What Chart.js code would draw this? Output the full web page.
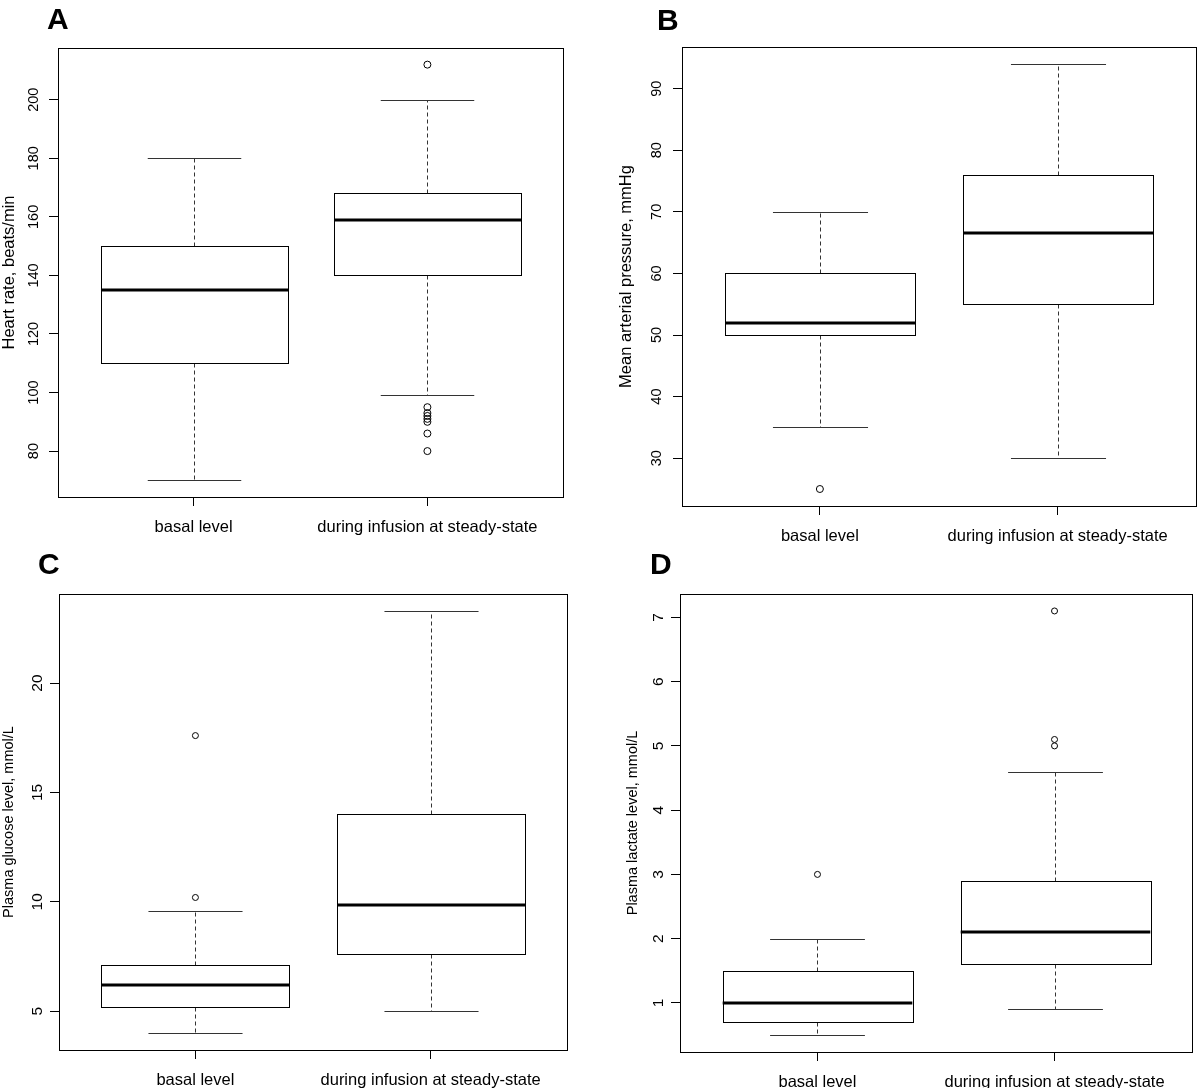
<!DOCTYPE html>
<html>
<head>
<meta charset="utf-8">
<script src="https://cdn.jsdelivr.net/npm/chart.js@4/dist/chart.umd.min.js"></script>
<style>
  html, body { margin: 0; padding: 0; background: #fff; }
  #wrap { position: relative; width: 1200px; height: 1088px; overflow: hidden; }
  .panel { position: absolute; width: 600px; height: 544px; }
  .panel canvas { display: block; }
</style>
</head>
<body>
<div id="wrap">
  <div class="panel" style="left:0;top:0"><canvas id="cA" width="600" height="544"></canvas></div>
  <div class="panel" style="left:600px;top:0"><canvas id="cB" width="600" height="544"></canvas></div>
  <div class="panel" style="left:0;top:544px"><canvas id="cC" width="600" height="544"></canvas></div>
  <div class="panel" style="left:600px;top:544px"><canvas id="cD" width="600" height="544"></canvas></div>
</div>
<script>
'use strict';
const groups = ['basal level', 'during infusion at steady-state'];

// five-number summaries: lower whisker, Q1, median, Q3, upper whisker
const heartBasal = [70, 110, 135, 150, 180];
const heartInfusion = [99, 140, 159, 168, 200];
const heartOutBasal = [];
const heartOutInfusion = [212, 95, 93, 92, 91, 90, 86, 80];
const heartTicks = [80, 100, 120, 140, 160, 180, 200];

const mapBasal = [35, 50, 52, 60, 70];
const mapInfusion = [30, 55, 66.5, 76, 94];
const mapOutBasal = [25];
const mapOutInfusion = [];
const mapTicks = [30, 40, 50, 60, 70, 80, 90];

const glucoseBasal = [4.0, 5.2, 6.2, 7.1, 9.6];
const glucoseInfusion = [5.0, 7.6, 9.85, 14.0, 23.3];
const glucoseOutBasal = [17.6, 10.2];
const glucoseOutInfusion = [];
const glucoseTicks = [5, 10, 15, 20];

const lactateBasal = [0.5, 0.7, 1.0, 1.5, 2.0];
const lactateInfusion = [0.9, 1.6, 2.1, 2.9, 4.6];
const lactateOutBasal = [3.0];
const lactateOutInfusion = [7.1, 5.1, 5.0];
const lactateTicks = [1, 2, 3, 4, 5, 6, 7];

const FONT = '"Liberation Sans", Arial, Helvetica, sans-serif';
Chart.defaults.font.family = FONT;
Chart.defaults.color = '#000';

// R-style boxplot: boxes, medians, dashed whiskers, staples, frame, panel letter
const rBoxplot = {
  id: 'rBoxplot',
  beforeDatasetsDraw(chart, args, o) {
    const { ctx, scales: { x, y } } = chart;
    const line = (x1, y1, x2, y2) => { ctx.beginPath(); ctx.moveTo(x1, y1); ctx.lineTo(x2, y2); ctx.stroke(); };
    const px = (v) => Math.round(v) + 0.5;
    ctx.save();
    o.boxes.forEach((b, i) => {
      const cx = px(x.getPixelForValue(i + 1));
      const hw = x.getPixelForValue(i + 1.4) - x.getPixelForValue(i + 1);
      const sw = hw / 2;
      const [lo, q1, med, q3, hi] = b.map((v) => px(y.getPixelForValue(v)));
      ctx.lineWidth = 1;
      ctx.strokeStyle = '#333';
      ctx.setLineDash([4, 3]);
      line(cx, q3, cx, hi);
      line(cx, q1, cx, lo);
      ctx.setLineDash([]);
      line(cx - sw, hi, cx + sw, hi);
      line(cx - sw, lo, cx + sw, lo);
      ctx.strokeStyle = '#000';
      ctx.fillStyle = '#fff';
      ctx.fillRect(cx - hw, q3, 2 * hw, q1 - q3);
      ctx.strokeRect(Math.round(cx - hw) + 0.5, q3, Math.round(2 * hw), q1 - q3);
      ctx.lineWidth = 3;
      line(cx - hw, med - 0.5, cx + hw, med - 0.5);
    });
    ctx.restore();
  },
  afterDraw(chart, args, o) {
    const { ctx, chartArea: a } = chart;
    ctx.save();
    ctx.strokeStyle = '#000';
    ctx.lineWidth = 1;
    ctx.strokeRect(Math.round(a.left) + 0.5, Math.round(a.top) + 0.5, Math.round(a.width), Math.round(a.height));
    ctx.fillStyle = '#000';
    ctx.font = 'bold 30px ' + FONT;
    ctx.textBaseline = 'alphabetic';
    ctx.fillText(o.letter, o.letterX, o.letterY);
    ctx.restore();
  }
};
Chart.register(rBoxplot);

function panel(id, p) {
  const vals = p.boxes.flat().concat(p.outliers.flat());
  const lo = Math.min(...vals), hi = Math.max(...vals), ext = (hi - lo) * 0.04;
  const xlo = 0.5 - (groups.length * 0.04), xhi = groups.length + 0.5 + (groups.length * 0.04);
  return new Chart(document.getElementById(id), {
    type: 'scatter',
    data: {
      datasets: p.outliers.map((o, i) => ({
        data: o.map((v) => ({ x: i + 1, y: v })),
        pointStyle: 'circle',
        pointRadius: p.r,
        pointHoverRadius: p.r,
        borderColor: '#000',
        backgroundColor: 'rgba(0,0,0,0)',
        borderWidth: 1,
        clip: false
      }))
    },
    options: {
      responsive: false,
      animation: false,
      events: [],
      layout: { padding: { top: p.top, right: p.right, left: 0, bottom: 0 } },
      plugins: {
        legend: { display: false },
        tooltip: { enabled: false },
        rBoxplot: { boxes: p.boxes, letter: p.letter, letterX: p.lx, letterY: p.ly }
      },
      scales: {
        x: {
          type: 'linear', min: xlo, max: xhi,
          afterBuildTicks: (s) => { s.ticks = groups.map((g, i) => ({ value: i + 1 })); },
          afterFit: (s) => { s.height = p.xh; },
          ticks: { autoSkip: false, maxRotation: 0, padding: 12, color: '#000',
            font: { size: 16.5 }, callback: (v) => groups[v - 1] },
          grid: { drawOnChartArea: false, drawTicks: true, tickLength: 9, color: '#000' },
          border: { display: false }
        },
        y: {
          type: 'linear', min: lo - ext, max: hi + ext,
          afterBuildTicks: (s) => { s.ticks = p.ticks.map((v) => ({ value: v })); },
          afterFit: (s) => { s.width = p.yw; },
          ticks: { autoSkip: false, minRotation: 90, maxRotation: 90, crossAlign: 'center',
            padding: p.tp, color: '#000', font: { size: p.tickSize } },
          title: { display: true, text: p.title, color: '#000', font: { size: p.titleSize },
            padding: { top: p.titlePad, bottom: 0 } },
          grid: { drawOnChartArea: false, drawTicks: true, tickLength: 9, color: '#000' },
          border: { display: false }
        }
      }
    }
  });
}

panel('cA', {
  boxes: [heartBasal, heartInfusion], outliers: [heartOutBasal, heartOutInfusion], ticks: heartTicks,
  title: 'Heart rate, beats/min', letter: 'A', lx: 47, ly: 29,
  top: 48, right: 37, yw: 58, xh: 47, tp: 3, tickSize: 14.5, titleSize: 16.5, titlePad: 0, r: 3.5
});
panel('cB', {
  boxes: [mapBasal, mapInfusion], outliers: [mapOutBasal, mapOutInfusion], ticks: mapTicks,
  title: 'Mean arterial pressure, mmHg', letter: 'B', lx: 57, ly: 30,
  top: 47, right: 2, yw: 82, xh: 38, tp: 8, tickSize: 14.5, titleSize: 16.5, titlePad: 17, r: 3.5
});
panel('cC', {
  boxes: [glucoseBasal, glucoseInfusion], outliers: [glucoseOutBasal, glucoseOutInfusion], ticks: glucoseTicks,
  title: 'Plasma glucose level, mmol/L', letter: 'C', lx: 38, ly: 30,
  top: 50, right: 33, yw: 59, xh: 38, tp: 4, tickSize: 15.5, titleSize: 14.5, titlePad: 0, r: 3
});
panel('cD', {
  boxes: [lactateBasal, lactateInfusion], outliers: [lactateOutBasal, lactateOutInfusion], ticks: lactateTicks,
  title: 'Plasma lactate level, mmol/L', letter: 'D', lx: 50, ly: 30,
  top: 50, right: 8, yw: 80, xh: 36, tp: 8, tickSize: 15.5, titleSize: 14.5, titlePad: 24, r: 3
});
</script>
</body>
</html>
